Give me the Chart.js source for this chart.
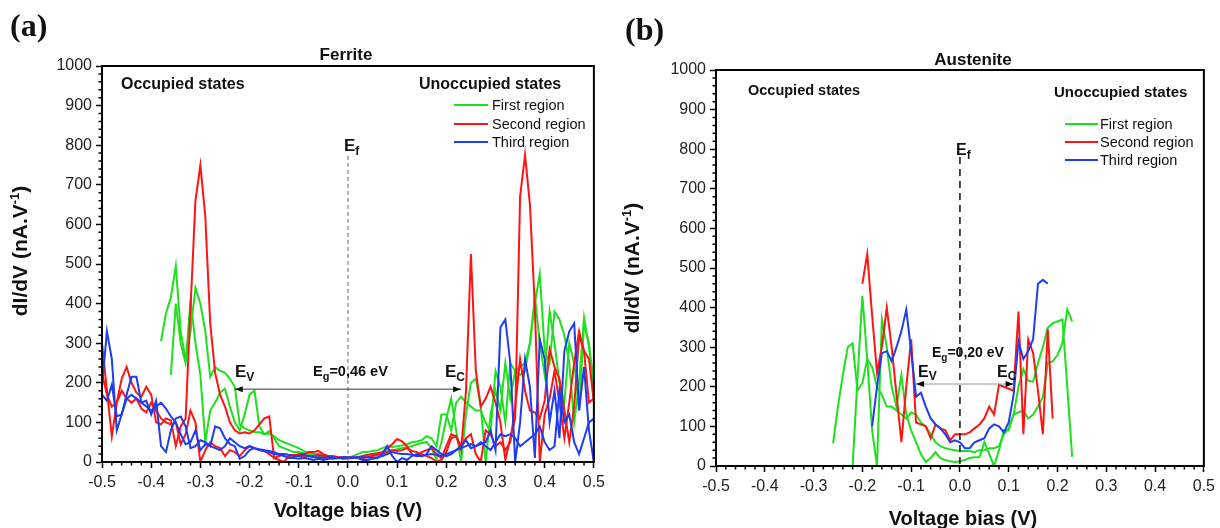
<!DOCTYPE html>
<html>
<head>
<meta charset="utf-8">
<script src="https://cdn.jsdelivr.net/npm/chart.js@4.4.1/dist/chart.umd.min.js"></script>
<style>
  body { margin: 0; background: #fff; }
  #wrap { position: relative; width: 1220px; height: 528px; }
  canvas { position: absolute; top: 0; }
  #ferrite { left: 0; }
  #austenite { left: 610px; }
</style>
</head>
<body>
<div id="wrap">
  <canvas id="ferrite" width="610" height="528"></canvas>
  <canvas id="austenite" width="610" height="528"></canvas>
</div>
<script>
// voltage bias (V) sample points
const biasA = [
  -0.50, -0.49, -0.48, -0.47, -0.46, -0.45, -0.44, -0.43, -0.42, -0.41,
  -0.40, -0.39, -0.38, -0.37, -0.36, -0.35, -0.34, -0.33, -0.32, -0.31,
  -0.30, -0.29, -0.28, -0.27, -0.26, -0.25, -0.24, -0.23, -0.22, -0.21,
  -0.20, -0.19, -0.18, -0.17, -0.16, -0.15, -0.14, -0.13, -0.12, -0.11,
  -0.10, -0.09, -0.08, -0.07, -0.06, -0.05, -0.04, -0.03, -0.02, -0.01,
  0.00, 0.01, 0.02, 0.03, 0.04, 0.05, 0.06, 0.07, 0.08, 0.09,
  0.10, 0.11, 0.12, 0.13, 0.14, 0.15, 0.16, 0.17, 0.18, 0.19,
  0.20, 0.21, 0.22, 0.23, 0.24, 0.25, 0.26, 0.27, 0.28, 0.29,
  0.30, 0.31, 0.32, 0.33, 0.34, 0.35, 0.36, 0.37, 0.38, 0.39,
  0.40, 0.41, 0.42, 0.43, 0.44, 0.45, 0.46, 0.47, 0.48, 0.49, 0.50
];
const biasB = [
  -0.26, -0.25, -0.24, -0.23, -0.22, -0.21, -0.20, -0.19, -0.18, -0.17,
  -0.16, -0.15, -0.14, -0.13, -0.12, -0.11, -0.10, -0.09, -0.08, -0.07,
  -0.06, -0.05, -0.04, -0.03, -0.02, -0.01, 0.00, 0.01, 0.02, 0.03,
  0.04, 0.05, 0.06, 0.07, 0.08, 0.09, 0.10, 0.11, 0.12, 0.13,
  0.14, 0.15, 0.16, 0.17, 0.18, 0.19, 0.20, 0.21, 0.22, 0.23
];

// dI/dV (nA.V-1), ferrite, two curves per region
const ferGreen1 = [
  null, null, null, null, null, null, null, null, null, null,
  null, null, 305, 375, 415, 495, 330, 258, 330, 440,
  400, 330, 215, 240, 230, 225, 210, 190, 95, 85,
  80, 75, 75, 70, 72, 65, 55, 50, 45, 40,
  35, 28, 22, 20, 20, 18, 15, 12, 10, 12,
  10, 15, 20, 25, 25, 28, 30, 35, 40, 38,
  40, 42, 45, 50, 52, 55, 65, 60, 40, 120,
  120, 80, 150, 165, 150, 140, 130, 130, 100, 75,
  230, 190, 100, 250, 230, 220, 230, 300, 400, 475,
  280, 250, 380, 360, 320, 250, 100, 200, 365, 290, 200
];
const ferGreen2 = [
  null, null, null, null, null, null, null, null, null, null,
  null, null, null, null, 220, 400, 300, 250, 410, 300,
  220, 50, 130, 150, 175, 185, 140, 100, 80, 120,
  170, 180, 90, 70, 78, 60, 40, 35, 30, 25,
  25, 22, 20, 18, 15, 15, 12, 12, 10, 10,
  8, 10, 12, 15, 18, 20, 22, 25, 28, 30,
  32, 35, 38, 40, 45, 48, 50, 35, 5, 50,
  110, 160, 80, 0, 120, 200, 210, 140, 0, 120,
  180, 130, 250, 160, 230, 240, 250, 300, 420, 300,
  220, 380, 300, 200, 150, 300, 250, 130, 350, 300, 180
];
const ferRed1 = [
  300, 180, 65, 150, 210, 240, 200, 175, 165, 190,
  170, 100, 95, 110, 105, 40, 90, 110, 390, 660,
  750, 620, 350, 225, 170, 140, 100, 80, 72, 75,
  72, 80, 95, 110, 115, 10, 15, 20, 18, 15,
  20, 20, 25, 25, 28, 20, 15, 15, 12, 12,
  12, 12, 10, 15, 18, 20, 22, 25, 35, 45,
  58, 52, 40, 20, 15, 25, 30, 35, 20, 10,
  40, 70, 65, 30, 180, 525, 230, 140, 160, 190,
  150, 100, 5, 60, 110, 670, 775, 650, 390, 0,
  120, 160, 230, 150, 60, 150, 250, 330, 280, 150, 160
];
const ferRed2 = [
  225, 170, 140, 150, 180, 160, 150, 160, 135, 125,
  150, 130, 110, 100, 95, 100, 45, 70, 130, 100,
  0, 30, 50, 40, 35, 15, 30, 25, 15, 30,
  40, 35, 30, 28, 20, 10, 5, 0, 15, 18,
  15, 12, 15, 15, 18, 15, 12, 10, 12, 10,
  10, 10, 12, 10, 12, 15, 18, 20, 25, 30,
  28, 30, 35, 28, 25, 20, 15, 10, 0, 5,
  25, 60, 65, 40, 60, 70, 20, 0, 80, 70,
  40, 50, 30, 50, 140, 260, 180, 130, 125, 110,
  155, 285, 240, 210, 130, 50, 140, 320, 280, 260, 150
];
const ferBlue1 = [
  190, 330, 260, 80, 120, 170, 215, 215, 150, 155,
  120, 155, 40, 25, 80, 110, 115, 90, 35, 40,
  55, 50, 40, 90, 85, 60, 45, 40, 8, 15,
  30, 35, 30, 28, 25, 20, 18, 15, 10, 10,
  8, 10, 8, 5, 8, 5, 8, 8, 10, 8,
  10, 12, 10, 5, 5, 8, 10, 20, 40, 15,
  0, 10, 5, 15, 20, 15, 20, 40, 30, 20,
  15, 20, 30, 35, 40, 45, 40, 45, 50, 80,
  30, 340, 360, 250, 0, 100, 260, 190, 10, 310,
  260, 100, 180, 60, 280, 330, 350, 130, 240, 80, 0
];
const ferBlue2 = [
  170, 155, 195, 115, 120, 160, 170, 160, 150, 140,
  130, 140, 150, 135, 115, 100, 70, 45, 50, 80,
  30, 45, 40, 35, 30, 40, 60, 50, 40, 35,
  40, 35, 32, 30, 28, 25, 20, 20, 18, 15,
  15, 18, 15, 12, 12, 10, 12, 12, 10, 12,
  12, 10, 12, 12, 12, 10, 12, 15, 20, 25,
  22, 20, 20, 18, 15, 15, 18, 20, 18, 15,
  20, 25, 30, 40, 55, 35, 40, 50, 40, 30,
  50, 70, 65, 70, 60, 40, 50, 60, 70, 90,
  50, 30, 40, 180, 100, 120, 50, 20, 60, 100, 110
];

// dI/dV (nA.V-1), austenite
const ausGreen1 = [
  57, 150, 230, 300, 310, 190, 210, 270, 250, 200,
  180, 150, 150, 140, 130, 120, 135, 130, 110, 100,
  80, 60, 50, 45, 42, 40, 38, 38, 38, 35,
  40, 40, 45, 45, 50, 80, 95, 130, 135, 140,
  120, 130, 150, 175, 260, 264, 280, 310, 395, 365
];
const ausGreen2 = [
  null, null, null, null, 0, 220, 430, 270, 90, 0,
  370, 300, 200, 150, 230, 130, 90, 60, 30, 10,
  20, 35, 20, 15, 12, 10, 12, 15, 20, 22,
  22, 60, 30, 0, 40, 90, 90, 130, 200, 245,
  215, 213, 260, 300, 349, 360, 365, 370, 200, 23
];
const ausRed = [
  null, null, null, null, null, null, 460, 535, 380, 235,
  300, 400, 300, 180, 60, 200, 320, 110, 105, 100,
  70, 105, 95, 90, 65, 80, 80, 80, 85, 95,
  105, 120, 150, 130, 205, 200, 195, 190, 390, 80,
  320, 285, 190, 80, 345, 120, null, null, null, null
];
const ausBlue = [
  null, null, null, null, null, null, null, null, 100, 200,
  285, 290, 265, 300, 340, 395, 290, 175, 185, 150,
  120, 105, 95, 80, 60, 65, 60, 45, 45, 60,
  65, 70, 95, 105, 100, 85, 110, 180, 315, 270,
  290, 320, 460, 470, 460, null, null, null, null, null
];

const regionNames = ['First region', 'Second region', 'Third region'];

const SANS = '"Liberation Sans", Arial, sans-serif';
const SERIF = '"Liberation Serif", "Times New Roman", serif';
const GREEN = '#1ee01e', RED = '#ff1414', BLUE = '#1e3cf0';
const f = (size, bold) => (bold ? 'bold ' : '') + size + 'px ' + SANS;

const line = (xs, ys, color) => ({
  data: xs.map((x, i) => ({ x, y: ys[i] })),
  borderColor: color,
  borderWidth: 2,
  pointRadius: 0,
  tension: 0,
  fill: false,
  spanGaps: false
});

// draws text pieces one after another (for sub / superscripts)
const drawRuns = (ctx, x, y, runs, align) => {
  let total = 0;
  runs.forEach(r => { ctx.font = r[1]; total += ctx.measureText(r[0]).width; });
  let cx = align === 'center' ? x - total / 2 : x;
  runs.forEach(r => {
    ctx.font = r[1];
    ctx.fillText(r[0], cx, y + (r[2] || 0));
    cx += ctx.measureText(r[0]).width;
  });
};

const decor = (p) => ({
  id: 'decor',
  afterDraw(chart) {
    const { ctx, chartArea: a, scales: { x, y } } = chart;
    ctx.save();

    // frame
    ctx.strokeStyle = '#000';
    ctx.lineWidth = 2;
    ctx.strokeRect(a.left, a.top, a.right - a.left, a.bottom - a.top);

    // minor ticks
    ctx.lineWidth = 1.5;
    ctx.beginPath();
    for (let k = -50; k <= 50; k += 2) {
      if (k % 10 === 0) continue;
      const px = x.getPixelForValue(k / 100);
      ctx.moveTo(px, a.bottom);
      ctx.lineTo(px, a.bottom + 3.5);
    }
    for (let v = 0; v <= 1000; v += 20) {
      if (v % 100 === 0) continue;
      const py = y.getPixelForValue(v);
      ctx.moveTo(a.left, py);
      ctx.lineTo(a.left - 3.5, py);
    }
    ctx.stroke();

    // Fermi level
    const fx = x.getPixelForValue(0);
    ctx.strokeStyle = p.fermi.color;
    ctx.lineWidth = p.fermi.width;
    ctx.setLineDash(p.fermi.dash);
    ctx.beginPath();
    ctx.moveTo(fx, y.getPixelForValue(p.fermi.top));
    ctx.lineTo(fx, a.bottom);
    ctx.stroke();
    ctx.setLineDash([]);

    // band gap arrow
    const gy = y.getPixelForValue(p.gap.at);
    const x1 = x.getPixelForValue(p.gap.from), x2 = x.getPixelForValue(p.gap.to);
    ctx.strokeStyle = p.gap.line;
    ctx.lineWidth = 1;
    ctx.beginPath();
    ctx.moveTo(x1, gy);
    ctx.lineTo(x2, gy);
    ctx.stroke();
    ctx.fillStyle = p.gap.head;
    [[x1, 1], [x2, -1]].forEach(([hx, d]) => {
      ctx.beginPath();
      ctx.moveTo(hx, gy);
      ctx.lineTo(hx + d * 8, gy - 3);
      ctx.lineTo(hx + d * 8, gy + 3);
      ctx.closePath();
      ctx.fill();
    });

    // legend
    const lg = p.legend;
    [GREEN, RED, BLUE].forEach((c, i) => {
      ctx.strokeStyle = c;
      ctx.lineWidth = 2;
      ctx.beginPath();
      ctx.moveTo(lg.x1, lg.ys[i]);
      ctx.lineTo(lg.x2, lg.ys[i]);
      ctx.stroke();
      ctx.fillStyle = '#111';
      ctx.font = lg.font;
      ctx.textBaseline = 'middle';
      ctx.fillText(regionNames[i], lg.tx, lg.ys[i] + 1);
    });

    // texts
    ctx.textBaseline = 'alphabetic';
    ctx.fillStyle = '#111';
    p.labels.forEach(l => {
      if (l.rot) {
        ctx.save();
        ctx.translate(l.x, l.y);
        ctx.rotate(-Math.PI / 2);
        drawRuns(ctx, 0, 0, l.runs, 'center');
        ctx.restore();
      } else {
        drawRuns(ctx, l.x, l.y, l.runs, l.align);
      }
    });
    ctx.restore();
  }
});

const tickFont = { family: SANS, size: 16 };

const makeChart = (id, bias, series, box, deco) => new Chart(document.getElementById(id), {
  type: 'line',
  data: { datasets: series.map(([ys, c]) => line(bias, ys, c)) },
  options: {
    responsive: false,
    animation: false,
    events: [],
    layout: { padding: { left: 0, top: box.top, right: box.right, bottom: 0 } },
    plugins: { legend: { display: false }, tooltip: { enabled: false } },
    scales: {
      x: {
        type: 'linear',
        min: -0.5,
        max: 0.5,
        afterFit: s => { s.height = 528 - box.bottom; },
        ticks: {
          stepSize: 0.1,
          autoSkip: false,
          maxRotation: 0,
          padding: 5,
          color: '#222',
          font: tickFont,
          callback: v => Math.abs(v) < 1e-9 ? '0.0' : v.toFixed(1)
        },
        grid: { drawOnChartArea: false, tickLength: 6, tickWidth: 1.5, tickColor: '#000' },
        border: { color: '#000', width: 2 }
      },
      y: {
        min: 0,
        max: 1000,
        afterFit: s => { s.width = box.left; },
        ticks: { stepSize: 100, padding: 4, color: '#222', font: tickFont, callback: v => String(v) },
        grid: { drawOnChartArea: false, tickLength: 6, tickWidth: 1.5, tickColor: '#000' },
        border: { color: '#000', width: 2 }
      }
    }
  },
  plugins: [decor(deco)]
});

makeChart('ferrite', biasA, [
  [ferBlue1, BLUE], [ferBlue2, BLUE],
  [ferRed1, RED], [ferRed2, RED],
  [ferGreen1, GREEN], [ferGreen2, GREEN]
], { left: 102, right: 16, top: 66, bottom: 462 }, {
  fermi: { top: 773, color: '#666', width: 1, dash: [4, 3] },
  gap: { from: -0.23, to: 0.23, at: 184, line: '#333', head: '#111' },
  legend: { x1: 454, x2: 488, tx: 492, ys: [105, 124, 142], font: f(14.5) },
  labels: [
    { x: 10, y: 36, runs: [['(a)', 'bold 32px ' + SERIF]] },
    { x: 346, y: 60, align: 'center', runs: [['Ferrite', f(17, 1)]] },
    { x: 121, y: 89, runs: [['Occupied states', f(16, 1)]] },
    { x: 419, y: 89, runs: [['Unoccupied states', f(16, 1)]] },
    { x: 344, y: 151, runs: [['E', f(17, 1)], ['f', f(12, 1), 4]] },
    { x: 235, y: 377, runs: [['E', f(17, 1)], ['V', f(12, 1), 4]] },
    { x: 445, y: 377, runs: [['E', f(17, 1)], ['C', f(12, 1), 4]] },
    { x: 313, y: 376, runs: [['E', f(14.5, 1)], ['g', f(11, 1), 4], ['=0,46 eV', f(14.5, 1)]] },
    { x: 348, y: 517, align: 'center', runs: [['Voltage bias (V)', f(20, 1)]] },
    { x: 27, y: 251, rot: true, runs: [['dI/dV (nA.V', f(21, 1)], ['-1', f(13, 1), -8], [')', f(21, 1)]] }
  ]
});

makeChart('austenite', biasB, [
  [ausBlue, BLUE],
  [ausRed, RED],
  [ausGreen1, GREEN], [ausGreen2, GREEN]
], { left: 106, right: 12, top: 70, bottom: 466 }, {
  fermi: { top: 780, color: '#111', width: 1.5, dash: [7, 5] },
  gap: { from: -0.09, to: 0.11, at: 207, line: '#999', head: '#000' },
  legend: { x1: 455, x2: 488, tx: 490, ys: [124, 142, 160], font: f(14.5) },
  labels: [
    { x: 15, y: 40, runs: [['(b)', 'bold 32px ' + SERIF]] },
    { x: 363, y: 65, align: 'center', runs: [['Austenite', f(17, 1)]] },
    { x: 138, y: 95, runs: [['Occupied states', f(14.5, 1)]] },
    { x: 444, y: 97, runs: [['Unoccupied states', f(15, 1)]] },
    { x: 346, y: 155, runs: [['E', f(16, 1)], ['f', f(12, 1), 4]] },
    { x: 322, y: 357, runs: [['E', f(14, 1)], ['g', f(10, 1), 4], ['=0,20 eV', f(14, 1)]] },
    { x: 308, y: 377, runs: [['E', f(16, 1)], ['V', f(12, 1), 3]] },
    { x: 387, y: 377, runs: [['E', f(16, 1)], ['C', f(12, 1), 3]] },
    { x: 353, y: 525, align: 'center', runs: [['Voltage bias (V)', f(20, 1)]] },
    { x: 29, y: 268, rot: true, runs: [['dI/dV (nA.V', f(21, 1)], ['-1', f(13, 1), -8], [')', f(21, 1)]] }
  ]
});
</script>
</body>
</html>
